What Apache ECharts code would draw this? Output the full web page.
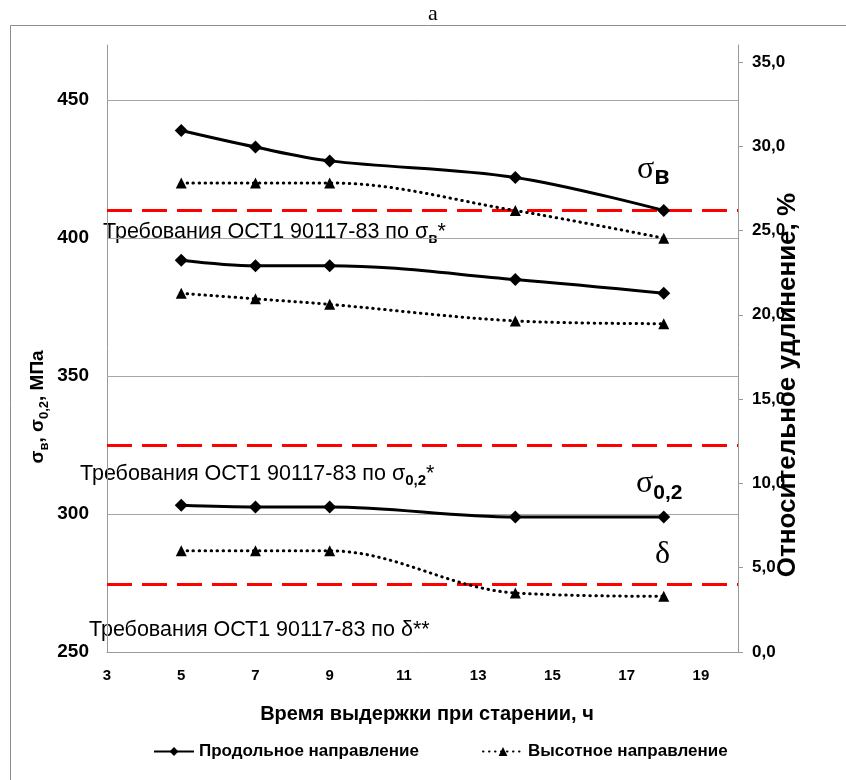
<!DOCTYPE html>
<html>
<head>
<meta charset="utf-8">
<script src="https://cdn.jsdelivr.net/npm/echarts@6/dist/echarts.min.js"></script>
<style>
  html, body { margin: 0; padding: 0; background: #fff; }
  #chart { width: 846px; height: 780px; }
</style>
</head>
<body>
<div id="chart"></div>
<script>
const HOURS = [5, 7, 9, 14, 18];
const SIGMA_B_LONG = [439, 433, 428, 422, 410];
const SIGMA_B_HIGH = [420, 420, 420, 410, 400];
const SIGMA_02_LONG = [392, 390, 390, 385, 380];
const SIGMA_02_HIGH = [380, 378, 376, 370, 369];
const DELTA_LONG = [8.7, 8.6, 8.6, 8.0, 8.0];
const DELTA_HIGH = [6.0, 6.0, 6.0, 3.5, 3.3];

const REQ_SIGMA_B = 410;
const REQ_SIGMA_02 = 325;
const REQ_DELTA = 4.0;

const X_TICKS = [3, 5, 7, 9, 11, 13, 15, 17, 19];
const LEFT_TICKS = [250, 300, 350, 400, 450];
const RIGHT_TICKS = [0, 5, 10, 15, 20, 25, 30, 35];
const GRID_LINES = [300, 350, 400, 450];

const LONG = 'Продольное направление';
const HIGH = 'Высотное направление';

const SANS = "'Liberation Sans', Arial, sans-serif";
const SERIF = "'Liberation Serif', 'Times New Roman', serif";

const pairs = (ys) => HOURS.map((h, i) => [h, ys[i]]);

const solid = { color: '#000', width: 3 };
const dotted = { color: '#000', width: 3, type: [0.5, 5.5], cap: 'round' };

function line(name, ys, yAxisIndex, style, symbol, size, extra) {
  return Object.assign({
    type: 'line',
    name: name,
    yAxisIndex: yAxisIndex,
    data: pairs(ys),
    smooth: 0.35,
    symbol: symbol,
    symbolSize: size,
    itemStyle: { color: '#000' },
    lineStyle: style,
    z: 5,
  }, extra || {});
}

function reqLine(value) {
  return {
    silent: true,
    symbol: 'none',
    label: { show: false },
    lineStyle: { color: '#ff0000', width: 3, type: [25, 10] },
    data: [{ yAxis: value }],
  };
}

function legendAt(name, left) {
  return {
    data: [name],
    left: left,
    top: 743,
    padding: 0,
    itemWidth: 40,
    itemHeight: 11,
    textStyle: { fontFamily: SANS, fontSize: 17, fontWeight: 'bold', color: '#000' },
  };
}

// plain or rich text placed at (x, y), anchored by align / middle
function txt(x, y, text, opts) {
  opts = opts || {};
  const align = opts.align || 'left';
  const style = {
    text: text,
    fill: '#000',
    textAlign: align,
    align: align,
    textVerticalAlign: 'middle',
    verticalAlign: 'middle',
  };
  if (opts.rich) style.rich = opts.rich;
  if (opts.font) style.font = opts.font;
  return {
    type: 'text',
    x: x,
    y: y,
    rotation: opts.rotation || 0,
    silent: true,
    style: style,
  };
}

const reqRich = {
  t: { fontFamily: SANS, fontSize: 21.5, lineHeight: 28, verticalAlign: 'middle', color: '#000' },
  s: { fontFamily: SANS, fontSize: 15, fontWeight: 'bold', lineHeight: 28, verticalAlign: 'bottom', color: '#000' },
};

const bigRich = {
  g: { fontFamily: SERIF, fontSize: 32, lineHeight: 40, verticalAlign: 'middle', color: '#000' },
  b: { fontFamily: SANS, fontSize: 21, fontWeight: 'bold', lineHeight: 40, verticalAlign: 'bottom', color: '#000' },
  v: { fontFamily: SANS, fontSize: 25, fontWeight: 'bold', lineHeight: 40, verticalAlign: 'bottom', color: '#000' },
};

const chart = echarts.init(document.getElementById('chart'), null, { renderer: 'canvas' });

chart.setOption({
  backgroundColor: '#fff',
  animation: false,
  grid: { left: 107, top: 45, width: 631, height: 607 },
  legend: [legendAt(LONG, 153), legendAt(HIGH, 482)],
  xAxis: {
    type: 'value',
    min: 3,
    max: 20,
    interval: 2,
    axisLine: { lineStyle: { color: '#999', width: 1 } },
    axisTick: { show: false },
    splitLine: { show: false },
    axisLabel: {
      customValues: X_TICKS,
      margin: 16,
      fontFamily: SANS,
      fontSize: 15,
      fontWeight: 'bold',
      color: '#000',
    },
  },
  yAxis: [
    {
      type: 'value',
      position: 'left',
      min: 250,
      max: 470,
      interval: 50,
      axisLine: { show: true, lineStyle: { color: '#999', width: 1 } },
      axisTick: { show: false },
      splitLine: { show: false },
      axisLabel: {
        customValues: LEFT_TICKS,
        margin: 18,
        fontFamily: SANS,
        fontSize: 19,
        fontWeight: 'bold',
        color: '#000',
      },
    },
    {
      type: 'value',
      position: 'right',
      min: 0,
      max: 36,
      interval: 5,
      axisLine: { show: true, lineStyle: { color: '#999', width: 1 } },
      axisTick: { show: true, customValues: RIGHT_TICKS, length: 5, lineStyle: { color: '#999' } },
      splitLine: { show: false },
      axisLabel: {
        customValues: RIGHT_TICKS,
        margin: 14,
        fontFamily: SANS,
        fontSize: 17,
        fontWeight: 'bold',
        color: '#000',
        formatter: (v) => v.toFixed(1).replace('.', ','),
      },
    },
  ],
  series: [
    {
      type: 'line',
      name: 'grid',
      yAxisIndex: 0,
      data: [],
      z: 1,
      markLine: {
        silent: true,
        symbol: 'none',
        label: { show: false },
        lineStyle: { color: '#a6a6a6', width: 1, type: 'solid' },
        data: GRID_LINES.map((v) => ({ yAxis: v })),
      },
    },
    line(LONG, SIGMA_B_LONG, 0, solid, 'diamond', 13, { markLine: reqLine(REQ_SIGMA_B) }),
    line(HIGH, SIGMA_B_HIGH, 0, dotted, 'triangle', 11),
    line(LONG, SIGMA_02_LONG, 0, solid, 'diamond', 13, { markLine: reqLine(REQ_SIGMA_02) }),
    line(HIGH, SIGMA_02_HIGH, 0, dotted, 'triangle', 11),
    line(LONG, DELTA_LONG, 1, solid, 'diamond', 13),
    line(HIGH, DELTA_HIGH, 1, dotted, 'triangle', 11, { markLine: reqLine(REQ_DELTA) }),
  ],
  graphic: [
    {
      type: 'rect',
      silent: true,
      shape: { x: 10.5, y: 25.5, width: 860, height: 800 },
      style: { fill: 'none', stroke: '#8c8c8c', lineWidth: 1 },
    },
    txt(433, 14, 'а', { font: '22px ' + SERIF, align: 'center' }),
    // requirement captions
    txt(103, 232, '{t|Требования ОСТ1 90117-83 по σ}{s|в}{t|*}', { rich: reqRich }),
    txt(80, 474, '{t|Требования ОСТ1 90117-83 по σ}{s|0,2}{t|*}', { rich: reqRich }),
    txt(89, 630, '{t|Требования ОСТ1 90117-83 по δ**}', { rich: reqRich }),
    // curve captions
    txt(637, 170, '{g|σ}{v|в}', { rich: bigRich }),
    txt(636, 484, '{g|σ}{b|0,2}', { rich: bigRich }),
    txt(655, 555, '{g|δ}', { rich: bigRich }),
    // axis titles
    txt(38, 407, '{m|σ}{s|в}{m|, σ}{s|0,2}{m|, МПа}', {
      align: 'center',
      rotation: Math.PI / 2,
      rich: {
        m: { fontFamily: SANS, fontSize: 19, fontWeight: 'bold', lineHeight: 26, verticalAlign: 'middle', color: '#000' },
        s: { fontFamily: SANS, fontSize: 13, fontWeight: 'bold', lineHeight: 26, verticalAlign: 'bottom', color: '#000' },
      },
    }),
    txt(788, 385, 'Относительное удлинение, %', {
      font: 'bold 26px ' + SANS,
      align: 'center',
      rotation: Math.PI / 2,
    }),
    txt(427, 714, 'Время выдержки при старении, ч', {
      font: 'bold 20px ' + SANS,
      align: 'center',
    }),
  ],
});
</script>
</body>
</html>
